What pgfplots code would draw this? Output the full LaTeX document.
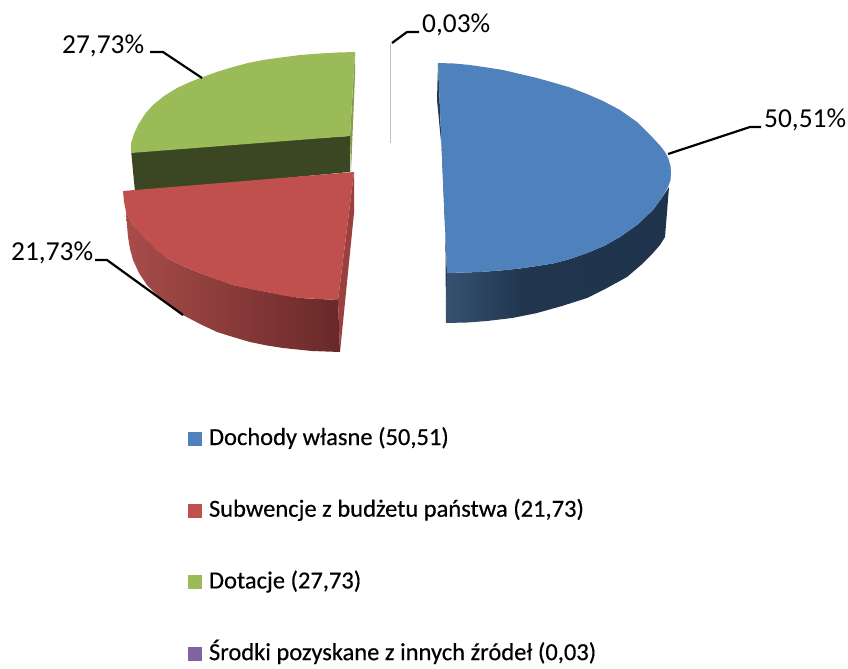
\documentclass[border=0pt]{standalone}
\usepackage{fontspec}
\setmainfont{Carlito}
\usepackage{pgfplots}
\pgfplotsset{compat=1.18}
\definecolor{blueT}{HTML}{4F81BD}
\definecolor{redT}{HTML}{C0504D}
\definecolor{greenT}{HTML}{9BBB59}
\definecolor{purpleT}{HTML}{8064A2}
\pgfdeclarehorizontalshading{blueside}{100bp}{rgb(0bp)=(0.21,0.32,0.44); rgb(25bp)=(0.21,0.32,0.44); rgb(42bp)=(0.13,0.21,0.31); rgb(75bp)=(0.12,0.20,0.30); rgb(100bp)=(0.12,0.20,0.30)}
\pgfdeclarehorizontalshading{redside}{100bp}{rgb(0bp)=(0.66,0.30,0.29); rgb(25bp)=(0.66,0.30,0.29); rgb(75bp)=(0.41,0.16,0.16); rgb(100bp)=(0.41,0.16,0.16)}
\begin{document}
\begin{tikzpicture}
\begin{axis}[
scale only axis,
width=848bp, height=663bp,
xmin=0, xmax=848, ymin=0, ymax=663,
y dir=reverse,
hide axis,
clip=false,
legend image code/.code={\path[#1,draw=none] (0bp,-7bp) rectangle (14bp,7bp);},
legend cell align=left,
legend style={at={(axis cs:188,425)},anchor=north west,draw=none,fill=none,inner sep=0pt,outer sep=0pt,
 font=\fontsize{24.5bp}{26bp}\selectfont\addfontfeatures{FakeBold=0.4},row sep=43.7bp,
 nodes={inner sep=0pt,text height=20bp,text depth=8bp},
 /tikz/every odd column/.append style={column sep=7bp}},
]
\addlegendimage{fill=blueT}
\addlegendentry{Dochody własne (50,51)}
\addlegendimage{fill=redT}
\addlegendentry{Subwencje z budżetu państwa (21,73)}
\addlegendimage{fill=greenT}
\addlegendentry{Dotacje (27,73)}
\addlegendimage{fill=purpleT}
\addlegendentry{Środki pozyskane z innych źródeł (0,03)}

% keeps the page as large as the reference
\addplot[draw=none,forget plot] coordinates {(0,0)(848,0)(848,663)(0,663)};

% green slice
\addplot[draw=none,fill=greenT!85!black] coordinates {(355,52)(355,75)(351,172)(350,136)} --cycle;
\addplot[draw=none,fill=greenT!38!black] coordinates {(131,150)(135,192)(350,172)(350,136)} --cycle;
\addplot[draw=none,fill=greenT] coordinates {(355,52)(338,52.5)(320,53.5)(300,55)(281,57.5)(263,60)(248,63)(233,67)(218,71.5)(203,77)(190,82)(177,88)(164,96)(153,105)(145,114)(138,125)(134,134)(131,143)(131,153)(350,136)} --cycle;

% purple slice, next to nothing
\addplot[draw={rgb,255:red,192;green,192;blue,208},line width=1pt] coordinates {(390.5,43)(390.5,143)};

% red slice
\addplot[draw=none,fill=redT!80!black] coordinates {(354,172)(354,213)(340,352)(338,300)} --cycle;
\addplot[draw=none,shading=redside] coordinates {(126,212)(127,225)(128,237)(130,249)(133,260)(139,273)(147,285)(155,293)(164,301)(183,315)(200,324)(217,332)(233,337)(250,342)(267,345.5)(283,348)(312,351)(340,352)(338,300)(300,298)(267,292)(233,285)(200,273)(183,266)(167,258)(147,240)(133,225)} --cycle;
\addplot[draw=none,fill=redT] coordinates {(123,191)(354,172)(338,300)(300,298)(283,295.5)(267,292)(250,289)(233,285)(216,279)(200,273)(183,266)(167,258)(156,250)(147,240)(139,232)(133,225)(129,218)(126,212)(124,202)} --cycle;

% blue slice
\addplot[draw=none,fill=blueT!45!black] coordinates {(438,63)(437,100)(445,183)(446,323)(447,273)} --cycle;
\addplot[draw=none,shading=blueside] coordinates {(446,323)(467,322.5)(487,321)(512,318)(537,313)(562,306)(587,298)(607,288)(627,277)(641,265)(653,253)(660,245)(665,237)(667,212)(669,187)(661,199)(653,210)(637,225)(620,237)(604,246)(587,253)(570,259)(553,263.5)(537,266)(520,268.5)(500,270.5)(480,272)(447,273)} --cycle;
\addplot[draw=none,fill=blueT] coordinates {(438,63)(454,63.5)(470,65)(487,67.5)(503,70)(520,74)(537,78)(553,82.5)(570,87.5)(587,94)(603,101)(620,110)(637,122)(653,138)(660,145.5)(665,152)(668.5,159)(670.5,166)(671,173)(670.5,180)(668,187)(661,199)(653,210)(637,225)(620,237)(604,246)(587,253)(570,259)(553,263.5)(537,266)(520,268.5)(500,270.5)(480,272)(447,273)} --cycle;

% leader lines
\addplot[black,line width=2.2pt] coordinates {(668,154)(750,127)(761,127)};
\addplot[black,line width=2.2pt] coordinates {(150,52)(163,52)(202,78)};
\addplot[black,line width=2.2pt] coordinates {(95,260)(107,260)(183,315)};
\addplot[black,line width=2.2pt] coordinates {(392,43)(407,32)(419,32)};

\node[anchor=west,inner sep=0pt,font=\fontsize{27.4bp}{28bp}\selectfont] at (axis cs:764,120) {50,51\%};
\node[anchor=west,inner sep=0pt,font=\fontsize{27.4bp}{28bp}\selectfont] at (axis cs:422,25) {0,03\%};
\node[anchor=west,inner sep=0pt,font=\fontsize{27.4bp}{28bp}\selectfont] at (axis cs:62,46) {27,73\%};
\node[anchor=west,inner sep=0pt,font=\fontsize{27.4bp}{28bp}\selectfont] at (axis cs:11,253) {21,73\%};
\end{axis}
\end{tikzpicture}
\end{document}
